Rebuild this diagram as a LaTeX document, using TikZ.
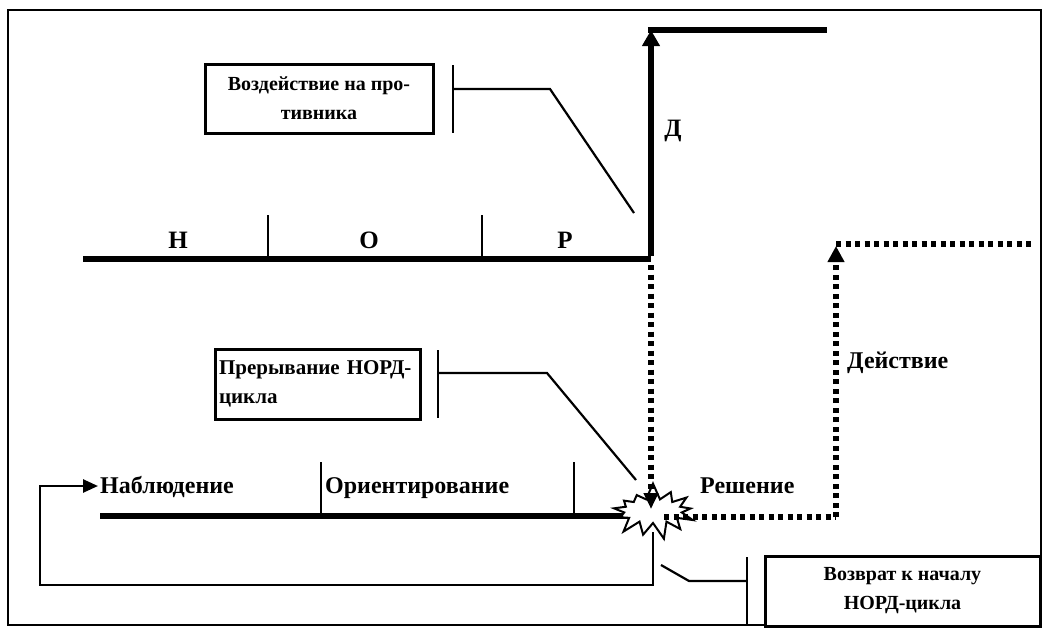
\documentclass[tikz,border=0pt]{standalone}
\usepackage{fontspec}
\setmainfont{Liberation Serif}
\newfontfamily\letterfont{Liberation Serif}
\usetikzlibrary{arrows.meta,shapes.symbols}

\tikzset{
  frameline/.style={line width=2.5pt},
  thickline/.style={line width=6.5pt},
  tickline/.style={line width=2.6pt},
  calloutline/.style={line width=2.2pt},
  dotline/.style={line width=5.5pt, dash pattern=on 5pt off 4.5pt},
  textbox/.style={draw, line width=3pt, fill=white, inner sep=0pt,
                  font=\bfseries\fontsize{20}{29}\selectfont},
  phase/.style={font=\letterfont\bfseries\fontsize{25}{27}\selectfont},
  label/.style={font=\bfseries\fontsize{24}{26}\selectfont, inner sep=0pt, anchor=base west},
  bigtip/.style={-{Triangle[width=17pt,length=16pt]}},
  smalltip/.style={-{Triangle[width=13pt,length=15pt]}},
}

\begin{document}
\begin{tikzpicture}[x=1pt,y=-1pt]
\useasboundingbox (0,0) rectangle (1058,643);

% outer frame
\draw[frameline] (8,10) rectangle (1041,625);

% ---- fast cycle (upper track) ----
\coordinate (u0) at (83,259);
\coordinate (u1) at (268,259);
\coordinate (u2) at (482,259);
\coordinate (u3) at (651,259);
\coordinate (u1t) at (268,215);
\coordinate (u2t) at (482,215);
\coordinate (dtop) at (651,30);
\coordinate (dend) at (827,30);

\draw[thickline] (u0) -- (u3);
\draw[tickline] (u1) -- (u1t);
\draw[tickline] (u2) -- (u2t);
\draw[thickline, bigtip] ([yshift=3.25pt]u3) -- (dtop);
\draw[thickline] ([xshift=-3.25pt]dtop) -- (dend);

\node[phase] (pH) at (178,240) {Н};
\node[phase] (pO) at (369,240) {О};
\node[phase] (pR) at (565,240) {Р};
\node[phase] (pD) at (673,131) {Д};

% ---- slow cycle (lower track) ----
\coordinate (l0) at (100,516);
\coordinate (l1) at (321,516);
\coordinate (l2) at (574,516);
\coordinate (l3) at (645,516);
\coordinate (l1t) at (321,462);
\coordinate (l2t) at (574,462);

\draw[thickline] (l0) -- (l3);
\draw[tickline] (l1) -- (l1t);
\draw[tickline] (l2) -- (l2t);

% burst where the slow cycle is broken
\node[starburst, starburst points=13, starburst point height=17pt,
      random starburst=7, minimum width=92pt, minimum height=58pt,
      draw, fill=white, line width=2pt, inner sep=0pt] (burst) at (653,511) {};

% return path to the start of the cycle
\coordinate (r0) at (653,532);
\coordinate (r1) at (653,585);
\coordinate (r2) at (40,585);
\coordinate (r3) at (40,486);
\coordinate (r4) at (98,486);
\draw[tickline, smalltip] (r0) -- (r1) -- (r2) -- (r3) -- (r4);

% dotted continuation
\coordinate (v0) at (651,265);
\coordinate (v1) at (651,509);
\draw[dotline, -{Triangle[width=14pt,length=16pt]}] (v0) -- (v1);

\coordinate (s0) at (664,517);
\coordinate (s1) at (836,517);
\coordinate (s2) at (836,246);
\coordinate (s3) at (836,244);
\coordinate (s4) at (1034,244);
\draw[dotline] (s0) -- (s1);
\draw[dotline, -{Triangle[width=16pt,length=16pt]}] (s1) -- (s2);
\draw[dotline] (s3) -- (s4);

\node[label] (tNab) at (100,493) {Наблюдение};
\node[label] (tOri) at (325,493) {Ориентирование};
\node[label] (tRes) at (700,493) {Решение};
\node[label] (tAct) at (847,368) {Действие};

% ---- callouts ----
\node[textbox, minimum width=228pt, minimum height=69pt, align=center]
  (b1) at (319,98.5) {Воздействие на про-\\тивника};
\coordinate (k1a) at (453,65);
\coordinate (k1b) at (453,133);
\coordinate (k1c) at (453,89);
\coordinate (k1d) at (550,89);
\coordinate (k1e) at (634,213);
\draw[tickline] (k1a) -- (k1b);
\draw[calloutline] (k1c) -- (k1d) -- (k1e);

\node[textbox, minimum width=205pt, minimum height=70pt, align=left,
      text width=197pt, font=\bfseries\fontsize{21}{29}\selectfont]
  (b2) at (317.5,384) {Прерывание НОРД-\\цикла};
\coordinate (k2a) at (438,350);
\coordinate (k2b) at (438,418);
\coordinate (k2c) at (438,373);
\coordinate (k2d) at (547,373);
\coordinate (k2e) at (636,480);
\draw[tickline] (k2a) -- (k2b);
\draw[calloutline] (k2c) -- (k2d) -- (k2e);

\node[textbox, minimum width=275pt, minimum height=70pt, align=center]
  (b3) at (902.5,591) {Возврат к началу\\НОРД-цикла};
\coordinate (k3a) at (747,557);
\coordinate (k3b) at (747,625);
\coordinate (k3c) at (747,581);
\coordinate (k3d) at (689,581);
\coordinate (k3e) at (661,565);
\draw[tickline] (k3a) -- (k3b);
\draw[calloutline] (k3c) -- (k3d) -- (k3e);

\end{tikzpicture}
\end{document}
